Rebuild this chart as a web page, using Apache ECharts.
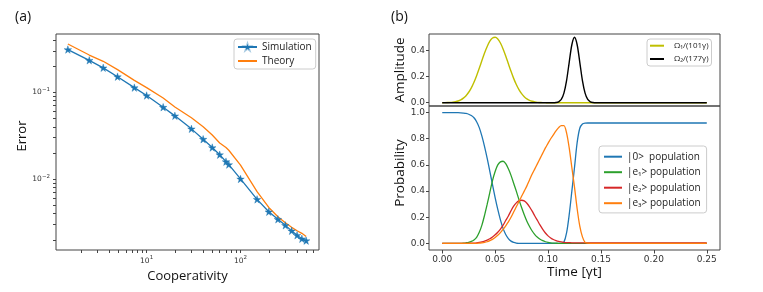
<!DOCTYPE html>
<html><head><meta charset="utf-8">
<script src="https://cdn.jsdelivr.net/npm/echarts@6/dist/echarts.min.js"></script>
<style>html,body{margin:0;padding:0;background:#fff}#c{width:763px;height:292px}</style>
</head><body><div id="c"></div>
<script>
// ---- panel (a) data ----
const cooperativity = [1.45, 2.45, 3.45, 4.9, 7.4, 10, 15, 20, 30, 40, 50, 60, 70, 75, 100, 150, 200, 250, 300, 350, 400, 450, 500];
const simulationError = [0.310, 0.233, 0.191, 0.151, 0.113, 0.0917, 0.0672, 0.0535, 0.0379, 0.0288, 0.0231, 0.0191, 0.0159, 0.0147, 0.01005, 0.00585, 0.00421, 0.00345, 0.00294, 0.00254, 0.00226, 0.00206, 0.00196];
const theoryError = [0.359, 0.268, 0.227, 0.182, 0.137, 0.113, 0.086, 0.0677, 0.0509, 0.0401, 0.0322, 0.0261, 0.0231, 0.0215, 0.0145, 0.00718, 0.00472, 0.00369, 0.00315, 0.00279, 0.00255, 0.00238, 0.00219];
const logMajorX = [10, 100];
const logMinorX = [2,3,4,5,6,7,8,9,20,30,40,50,60,70,80,90,200,300,400,500,600];
const logMajorY = [0.01, 0.1];
const logMinorY = [0.002,0.003,0.004,0.005,0.006,0.007,0.008,0.009,0.02,0.03,0.04,0.05,0.06,0.07,0.08,0.09,0.2,0.3,0.4];

// ---- panel (b) data ----
const time = [0,0.0025,0.005,0.0075,0.01,0.0125,0.015,0.0175,0.02,0.0225,0.025,0.0275,0.03,0.0325,0.035,0.0375,0.04,0.0425,0.045,0.0475,0.05,0.0525,0.055,0.0575,0.06,0.0625,0.065,0.0675,0.07,0.0725,0.075,0.0775,0.08,0.0825,0.085,0.0875,0.09,0.0925,0.095,0.0975,0.1,0.1025,0.105,0.1075,0.11,0.1125,0.115,0.1175,0.12,0.1225,0.125,0.1275,0.13,0.1325,0.135,0.1375,0.14,0.1425,0.145,0.1475,0.15,0.16,0.17,0.18,0.19,0.2,0.21,0.22,0.23,0.24,0.25];
const omega1 = [0.0003,0.0006,0.0012,0.0023,0.0043,0.0077,0.013,0.022,0.035,0.054,
  0.080,0.114,0.157,0.207,0.263,0.322,0.380,0.430,0.470,0.494,
  0.500,0.487,0.456,0.411,0.357,0.298,0.240,0.186,0.139,0.100,
  0.069,0.046,0.029,0.018,0.011,0.006,0.003,0.002,0.001,0.0005,
  0,0,0,0,0,0,0,0,0,0,0,0,0,0,0,0,0,0,0,0,0,
  0,0,0,0,0,0,0,0,0,0];
const omega2 = [0,0,0,0,0,0,0,0,0,0,0,0,0,0,0,0,0,0,0,0,0,0,0,0,0,0,0,0,0,0,0,0,0,0,0,0,0,0,0,0,0,0,0,
  0.0015,0.007,0.025,0.073,0.169,0.309,0.443,0.5,0.443,0.309,0.169,0.073,0.025,0.007,0.0015,
  0,0,0,
  0,0,0,0,0,0,0,0,0,0];
const pop0 = [1,1,1,1,1, 0.999,0.999,0.998,0.996,0.993, 0.987,0.977,0.96,0.93,0.885,
  0.82,0.74,0.65,0.55,0.45, 0.35,0.26,0.18,0.115,0.068, 0.037,0.018,0.008,0.003,0.001,
  0,0,0,0,0,0,0,0,0,0,0,0,0,0,0,
  0.001,0.01,0.08,0.22,0.40, 0.58,0.77,0.88,0.912,0.919,
  0.92,0.92,0.92,0.92,0.92,0.92,
  0.92,0.92,0.92,0.92,0.92,0.92,0.92,0.92,0.92,0.92];
const pop1 = [0,0,0,0,0, 0,0,0.001,0.002,0.005, 0.009,0.016,0.027,0.047,0.085,
  0.14,0.215,0.30,0.39,0.48, 0.55,0.60,0.623,0.628,0.61, 0.57,0.52,0.46,0.40,0.335,
  0.275,0.22,0.17,0.13,0.095, 0.068,0.047,0.032,0.021,0.013, 0.008,0.005,0.003,0.002,0.001,
  0.001,0.001,0.001,0.001,0.001,0.001,0.001,0.001,0.001,0.001,0.001,0.001,0.001,0.001,0.001,0.001,
  0.001,0.001,0.001,0.001,0.001,0.001,0.001,0.001,0.001,0.001];
const pop2 = [0,0,0,0,0, 0,0,0,0,0.001, 0.001,0.002,0.003,0.005,0.008,
  0.012,0.018,0.026,0.036,0.05, 0.066,0.086,0.11,0.14,0.175, 0.21,0.25,0.285,0.31,0.325,
  0.33,0.325,0.307,0.28,0.247, 0.21,0.175,0.14,0.108,0.08, 0.058,0.042,0.03,0.022,0.016,
  0.012,0.009,0.007,0.006,0.005,
  0.005,0.005,0.005,0.005,0.005,0.005,0.005,0.005,0.005,0.005,0.005,
  0.004,0.004,0.004,0.004,0.004,0.004,0.004,0.004,0.004,0.004];
const pop3 = [0,0,0,0,0, 0,0,0,0,0, 0,0,0,0.001,0.003,
  0.005,0.008,0.013,0.021,0.031, 0.045,0.062,0.083,0.107,0.135, 0.165,0.20,0.24,0.28,0.32,
  0.36,0.40,0.44,0.485,0.53, 0.57,0.61,0.65,0.69,0.73, 0.765,0.80,0.83,0.86,0.885,
  0.9,0.9,0.845,0.73,0.58, 0.43,0.265,0.132,0.05,0.008,
  0.002,0.001,0.001,0.001,0.001,0.001,
  0.001,0.001,0.001,0.001,0.001,0.001,0.001,0.001,0.001,0.001];
const timeTicks = [0, 0.05, 0.10, 0.15, 0.20, 0.25];
const ampTicks = [0, 0.2, 0.4];
const probTicks = [0, 0.2, 0.4, 0.6, 0.8, 1.0];

const SANS = '"Open Sans", "DejaVu Sans", sans-serif';
const TICKF = '"DejaVu Sans", sans-serif';
const AX = '#444';
const STAR = 'path://M50,0L61.2,34.5L97.6,34.5L68.2,55.9L79.4,90.5L50,69.1L20.6,90.5L31.8,55.9L2.4,34.5L38.8,34.5Z';

function pairs(xs, ys) { return xs.map((x, i) => [x, ys[i]]); }
function logLabel(v) {
  const e = Math.round(Math.log10(v));
  return '10{sup|' + (e < 0 ? '\u2212' + (-e) : e) + '}';
}
const logLabelStyle = {
  fontFamily: TICKF, fontSize: 7.5, color: '#333',
  formatter: logLabel,
  rich: { sup: { fontFamily: TICKF, fontSize: 5.5, color: '#333', padding: [0, 0, 6, 0] } }
};
const noLine = { show: false, onZero: false };
const hidden = { show: false };
const lineOnly = { opacity: 0 };

const chart = echarts.init(document.getElementById('c'), null, { renderer: 'canvas' });
chart.setOption({
  animation: false,
  backgroundColor: '#fff',
  title: [
    { text: '(a)', left: 15, top: 10, padding: 0, textStyle: { fontFamily: SANS, fontSize: 14, fontWeight: 'normal', color: '#111' } },
    { text: '(b)', left: 391, top: 10, padding: 0, textStyle: { fontFamily: SANS, fontSize: 14, fontWeight: 'normal', color: '#111' } }
  ],
  grid: [
    { left: 56, top: 34, width: 263, height: 216, show: true, borderColor: AX, borderWidth: 1, backgroundColor: 'transparent' },
    { left: 429, top: 34, width: 291, height: 72, show: true, borderColor: AX, borderWidth: 1, backgroundColor: 'transparent' },
    { left: 429, top: 106, width: 291, height: 144, show: true, borderColor: AX, borderWidth: 1, backgroundColor: 'transparent' }
  ],
  xAxis: [
    { type: 'log', gridIndex: 0, position: 'bottom', min: 1.084, max: 685, logBase: 10,
      axisLine: noLine, splitLine: hidden,
      axisTick: { show: true, length: 3, lineStyle: { color: AX }, customValues: logMajorX.concat(logMinorX) },
      axisLabel: Object.assign({ margin: 5, customValues: logMajorX }, logLabelStyle),
      name: 'Cooperativity', nameLocation: 'middle', nameGap: 16,
      nameTextStyle: { fontFamily: SANS, fontSize: 13, color: '#111' } },
    { type: 'value', gridIndex: 1, position: 'bottom', min: -0.0125, max: 0.2625,
      axisLine: noLine, splitLine: hidden, axisLabel: hidden, axisTick: hidden },
    { type: 'value', gridIndex: 2, position: 'bottom', min: -0.0125, max: 0.2625,
      axisLine: noLine, splitLine: hidden,
      axisTick: { show: true, length: 3.5, lineStyle: { color: AX }, customValues: timeTicks },
      axisLabel: { customValues: timeTicks, margin: 5, fontFamily: TICKF, fontSize: 9, color: '#333', formatter: v => v.toFixed(2) },
      name: 'Time [γt]', nameLocation: 'middle', nameGap: 15,
      nameTextStyle: { fontFamily: SANS, fontSize: 13.5, color: '#111' } }
  ],
  yAxis: [
    { type: 'log', gridIndex: 0, position: 'left', min: 0.00153, max: 0.468, logBase: 10,
      axisLine: noLine, splitLine: hidden,
      axisTick: { show: true, length: 3, lineStyle: { color: AX }, customValues: logMajorY.concat(logMinorY) },
      axisLabel: Object.assign({ margin: 6, customValues: logMajorY }, logLabelStyle),
      name: 'Error', nameLocation: 'middle', nameGap: 25,
      nameTextStyle: { fontFamily: SANS, fontSize: 13, color: '#111', padding: [0, 0, 0, 12] } },
    { type: 'value', gridIndex: 1, position: 'left', min: -0.025, max: 0.525,
      axisLine: noLine, splitLine: hidden,
      axisTick: { show: true, length: 3, lineStyle: { color: AX }, customValues: ampTicks },
      axisLabel: { customValues: ampTicks, margin: 4, fontFamily: TICKF, fontSize: 9, color: '#333', formatter: v => v.toFixed(1) },
      name: 'Amplitude', nameLocation: 'middle', nameGap: 22,
      nameTextStyle: { fontFamily: SANS, fontSize: 13.5, color: '#111' } },
    { type: 'value', gridIndex: 2, position: 'left', min: -0.05, max: 1.05,
      axisLine: noLine, splitLine: hidden,
      axisTick: { show: true, length: 3, lineStyle: { color: AX }, customValues: probTicks },
      axisLabel: { customValues: probTicks, margin: 4, fontFamily: TICKF, fontSize: 9, color: '#333', formatter: v => v.toFixed(1) },
      name: 'Probability', nameLocation: 'middle', nameGap: 22,
      nameTextStyle: { fontFamily: SANS, fontSize: 13.5, color: '#111', padding: [0, 0, 0, 10] } }
  ],
  legend: [
    { data: ['Simulation', { name: 'Theory', itemStyle: lineOnly }], orient: 'vertical', left: 234, top: 39,
      itemWidth: 19, itemHeight: 8, itemGap: 4, padding: [3, 4, 3, 3],
      backgroundColor: 'rgba(255,255,255,0.85)', borderColor: '#ccc', borderWidth: 1, borderRadius: 3,
      textStyle: { fontFamily: SANS, fontSize: 10, color: '#222' } },
    { data: ['Ω\u2081/(101γ)', 'Ω\u2082/(177γ)'], orient: 'vertical', left: 647, top: 39,
      itemWidth: 14, itemHeight: 8, itemGap: 5.3, padding: [2.7, 3, 3, 2], itemStyle: lineOnly,
      backgroundColor: 'rgba(255,255,255,0.85)', borderColor: '#ccc', borderWidth: 1, borderRadius: 3,
      textStyle: { fontFamily: SANS, fontSize: 8, color: '#222', padding: [0, 0, 0, 5] } },
    { data: ['|0>  population', '|e\u2081> population', '|e\u2082> population', '|e\u2083> population'],
      orient: 'vertical', left: 599, top: 146, itemStyle: lineOnly,
      itemWidth: 18, itemHeight: 10, itemGap: 5.5, padding: [5.7, 6, 4.7, 4],
      backgroundColor: 'rgba(255,255,255,0.85)', borderColor: '#ccc', borderWidth: 1, borderRadius: 3,
      textStyle: { fontFamily: SANS, fontSize: 10, color: '#222' } }
  ],
  series: [
    { name: 'Simulation', type: 'line', xAxisIndex: 0, yAxisIndex: 0,
      data: pairs(cooperativity, simulationError),
      symbol: STAR, symbolSize: 7.5, showSymbol: true,
      lineStyle: { color: '#1f77b4', width: 1.3 }, itemStyle: { color: '#1f77b4', borderColor: 'rgba(31,119,180,0.4)', borderWidth: 1 } },
    { name: 'Theory', type: 'line', xAxisIndex: 0, yAxisIndex: 0,
      data: pairs(cooperativity, theoryError), symbol: 'none',
      lineStyle: { color: '#ff7f0e', width: 1.3 }, itemStyle: { color: '#ff7f0e' } },
    { name: 'Ω\u2081/(101γ)', type: 'line', xAxisIndex: 1, yAxisIndex: 1,
      data: pairs(time, omega1), symbol: 'none', smooth: 0.3,
      lineStyle: { color: '#bfbf00', width: 1.4 }, itemStyle: { color: '#bfbf00' } },
    { name: 'Ω\u2082/(177γ)', type: 'line', xAxisIndex: 1, yAxisIndex: 1,
      data: pairs(time, omega2), symbol: 'none', smooth: 0.3,
      lineStyle: { color: '#000', width: 1.4 }, itemStyle: { color: '#000' } },
    { name: '|0>  population', type: 'line', xAxisIndex: 2, yAxisIndex: 2,
      data: pairs(time, pop0), symbol: 'none', smooth: 0.3,
      lineStyle: { color: '#1f77b4', width: 1.3 }, itemStyle: { color: '#1f77b4' } },
    { name: '|e\u2081> population', type: 'line', xAxisIndex: 2, yAxisIndex: 2,
      data: pairs(time, pop1), symbol: 'none', smooth: 0.3,
      lineStyle: { color: '#2ca02c', width: 1.3 }, itemStyle: { color: '#2ca02c' } },
    { name: '|e\u2082> population', type: 'line', xAxisIndex: 2, yAxisIndex: 2,
      data: pairs(time, pop2), symbol: 'none', smooth: 0.3,
      lineStyle: { color: '#d62728', width: 1.3 }, itemStyle: { color: '#d62728' } },
    { name: '|e\u2083> population', type: 'line', xAxisIndex: 2, yAxisIndex: 2,
      data: pairs(time, pop3), symbol: 'none', smooth: 0.3,
      lineStyle: { color: '#ff7f0e', width: 1.3 }, itemStyle: { color: '#ff7f0e' } }
  ]
});
</script>
</body></html>
